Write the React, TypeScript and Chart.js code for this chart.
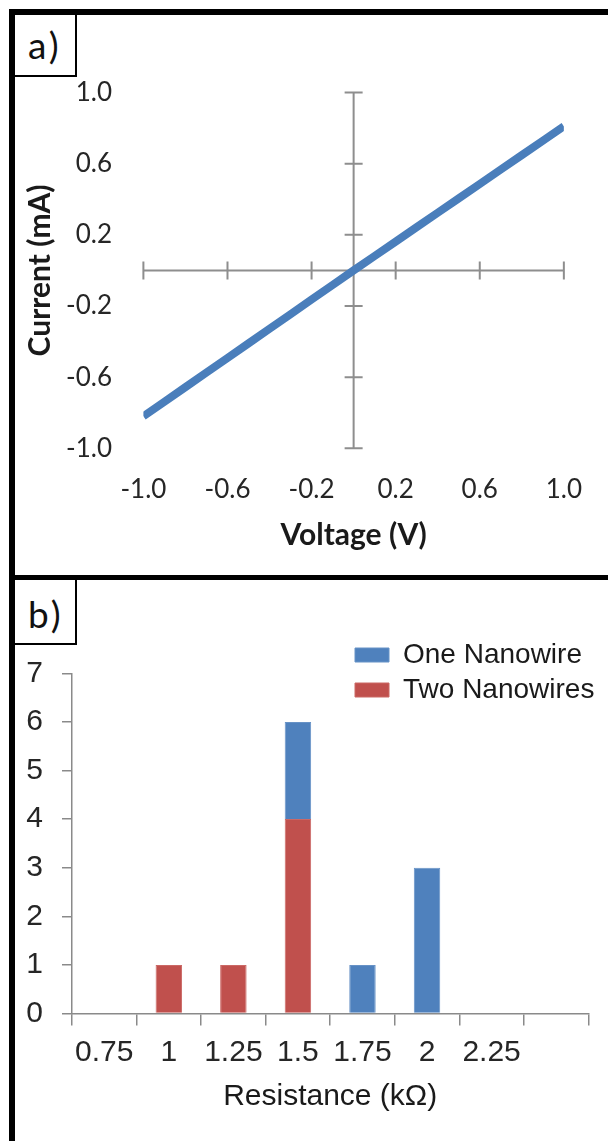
import React, { useEffect, useRef } from 'react';
import { Chart, registerables } from 'chart.js';

Chart.register(...registerables);

// ---- Panel a: I-V curve ----
const voltage = [-1.0, -0.9, -0.8, -0.7, -0.6, -0.5, -0.4, -0.3, -0.2, -0.1, 0.0, 0.1, 0.2, 0.3, 0.4, 0.5, 0.6, 0.7, 0.8, 0.9, 1.0];
const current = [-0.82, -0.738, -0.656, -0.574, -0.492, -0.41, -0.328, -0.246, -0.164, -0.082, 0.0, 0.081, 0.162, 0.243, 0.324, 0.405, 0.486, 0.567, 0.648, 0.729, 0.81];
const ivTicks = [-1.0, -0.6, -0.2, 0.2, 0.6, 1.0];

// ---- Panel b: resistance histogram ----
const resistanceBins = ['0.75', '1', '1.25', '1.5', '1.75', '2', '2.25', ''];
const oneNanowire = [0, 0, 0, 2, 1, 3, 0, 0];
const twoNanowires = [0, 1, 1, 4, 0, 0, 0, 0];
const countTicks = [0, 1, 2, 3, 4, 5, 6, 7];

const AXIS_A = '#8e8e8e';
const AXIS_B = '#8a8a8a';
const TEXT = '#262626';

const crossAxes = {
  id: 'crossAxes',
  beforeDatasetsDraw(chart: any) {
    const { ctx, scales } = chart;
    const x = scales.x;
    const y = scales.y;
    const x0 = x.getPixelForValue(0);
    const y0 = y.getPixelForValue(0);
    const first = ivTicks[0];
    const last = ivTicks[ivTicks.length - 1];
    ctx.save();
    ctx.strokeStyle = AXIS_A;
    ctx.lineWidth = 2;
    ctx.beginPath();
    ctx.moveTo(x.getPixelForValue(first), y0);
    ctx.lineTo(x.getPixelForValue(last), y0);
    ctx.moveTo(x0, y.getPixelForValue(last));
    ctx.lineTo(x0, y.getPixelForValue(first));
    ivTicks.forEach((t) => {
      const px = x.getPixelForValue(t);
      ctx.moveTo(px, y0 - 9);
      ctx.lineTo(px, y0 + 9);
      const py = y.getPixelForValue(t);
      ctx.moveTo(x0 - 9, py);
      ctx.lineTo(x0 + 9, py);
    });
    ctx.stroke();
    ctx.restore();
  },
};

const legendPlace = {
  id: 'legendPlace',
  afterLayout(chart: any) {
    const lg = chart.legend;
    if (!lg) return;
    lg.left = 333;
    lg.top = 54;
    lg.right = 593;
    lg.bottom = 220;
  },
};

function IVChart() {
  const ref = useRef<HTMLCanvasElement>(null);
  useEffect(() => {
    const chart = new Chart(ref.current as HTMLCanvasElement, {
      type: 'scatter',
      data: {
        datasets: [
          {
            label: 'I-V',
            data: voltage.map((v, i) => ({ x: v, y: current[i] })),
            showLine: true,
            borderColor: '#4a7ebb',
            backgroundColor: '#4a7ebb',
            borderWidth: 8,
            pointRadius: 0,
            tension: 0,
          },
        ],
      },
      options: {
        animation: false,
        responsive: false,
        layout: { padding: { left: 0, top: 77.5, right: 39, bottom: 0 } },
        plugins: { legend: { display: false }, tooltip: { enabled: false } },
        scales: {
          x: {
            type: 'linear',
            min: -1,
            max: 1,
            afterBuildTicks: (s: any) => {
              s.ticks = ivTicks.map((v) => ({ value: v }));
            },
            afterFit: (s: any) => {
              s.height = 126.7;
            },
            grid: { display: false, drawTicks: false },
            border: { display: false },
            ticks: {
              callback: (v: any) => Number(v).toFixed(1),
              font: { family: 'Lato', size: 26 },
              color: TEXT,
              padding: 26,
              maxRotation: 0,
              autoSkip: false,
            },
            title: {
              display: true,
              text: 'Voltage (V)',
              font: { family: 'Lato', size: 30, weight: 'bold' },
              color: '#1a1a1a',
              padding: { top: 0, bottom: 22 },
            },
          },
          y: {
            type: 'linear',
            min: -1,
            max: 1,
            afterBuildTicks: (s: any) => {
              s.ticks = ivTicks.map((v) => ({ value: v }));
            },
            afterFit: (s: any) => {
              s.width = 128.4;
            },
            grid: { display: false, drawTicks: false },
            border: { display: false },
            ticks: {
              callback: (v: any) => Number(v).toFixed(1),
              font: { family: 'Lato', size: 26 },
              color: TEXT,
              padding: 31.4,
              autoSkip: false,
            },
            title: {
              display: true,
              text: 'Current (mA)',
              font: { family: 'Lato', size: 30, weight: 'bold' },
              color: '#1a1a1a',
              padding: { top: 7, bottom: 0 },
            },
          },
        },
      },
      plugins: [crossAxes],
    } as any);
    return () => chart.destroy();
  }, []);
  return (
    <canvas
      ref={ref}
      width={593}
      height={560}
      style={{ position: 'absolute', left: 15, top: 15, width: 593, height: 560, display: 'block' }}
    />
  );
}

function HistChart() {
  const ref = useRef<HTMLCanvasElement>(null);
  useEffect(() => {
    const chart = new Chart(ref.current as HTMLCanvasElement, {
      type: 'bar',
      data: {
        labels: resistanceBins,
        datasets: [
          {
            label: 'Two Nanowires',
            data: twoNanowires,
            backgroundColor: '#c0504d',
            borderColor: '#cb6865',
            borderWidth: 1,
            categoryPercentage: 1,
            barPercentage: 0.41,
          },
          {
            label: 'One Nanowire',
            data: oneNanowire,
            backgroundColor: '#4f81bd',
            borderColor: '#6792c6',
            borderWidth: 1,
            categoryPercentage: 1,
            barPercentage: 0.41,
          },
        ],
      },
      options: {
        animation: false,
        responsive: false,
        layout: { padding: { left: 0, top: 93.3, right: 18.6, bottom: 0 } },
        plugins: {
          tooltip: { enabled: false },
          legend: {
            display: true,
            position: 'right',
            align: 'start',
            maxWidth: 1,
            reverse: true,
            labels: {
              boxWidth: 34,
              boxHeight: 14,
              padding: 7,
              color: '#1a1a1a',
              font: { family: 'Liberation Sans', size: 28 },
            },
          },
        },
        scales: {
          x: {
            type: 'category',
            stacked: true,
            offset: true,
            afterFit: (s: any) => {
              s.height = 127.5;
            },
            grid: {
              display: true,
              offset: true,
              drawOnChartArea: false,
              drawTicks: true,
              tickLength: 12,
              color: AXIS_B,
              lineWidth: 1.5,
            },
            border: { display: true, color: AXIS_B, width: 1.5 },
            ticks: {
              font: { family: 'Liberation Sans', size: 30 },
              color: TEXT,
              padding: 9,
              maxRotation: 0,
              autoSkip: false,
            },
            title: {
              display: true,
              text: 'Resistance (kΩ)',
              font: { family: 'Liberation Sans', size: 30 },
              color: '#1a1a1a',
              padding: { top: 0, bottom: 26.4 },
            },
          },
          y: {
            type: 'linear',
            stacked: true,
            min: countTicks[0],
            max: countTicks[countTicks.length - 1],
            afterBuildTicks: (s: any) => {
              s.ticks = countTicks.map((v) => ({ value: v }));
            },
            afterFit: (s: any) => {
              s.width = 57;
            },
            grid: {
              display: true,
              drawOnChartArea: false,
              drawTicks: true,
              tickLength: 10,
              color: AXIS_B,
              lineWidth: 1.5,
            },
            border: { display: true, color: AXIS_B, width: 1.5 },
            ticks: {
              font: { family: 'Liberation Sans', size: 30 },
              color: TEXT,
              padding: 19,
              autoSkip: false,
            },
          },
        },
      },
      plugins: [legendPlace],
    } as any);
    return () => chart.destroy();
  }, []);
  return (
    <canvas
      ref={ref}
      width={593}
      height={561}
      style={{ position: 'absolute', left: 15, top: 580, width: 593, height: 561, display: 'block' }}
    />
  );
}

export default function App() {
  const panelLabel = (text: string, top: number, h: number, lh: number) => (
    <div
      style={{
        position: 'absolute',
        left: 15,
        top,
        width: 62,
        height: h,
        borderRight: '2px solid #000',
        borderBottom: '2px solid #000',
        background: '#fff',
        fontFamily: 'Lato',
        fontSize: 37,
        lineHeight: lh + 'px',
        paddingLeft: 13,
        boxSizing: 'border-box',
        letterSpacing: 3,
        color: '#111',
        overflow: 'visible',
        whiteSpace: 'nowrap',
      }}
    >
      {text}
    </div>
  );
  return (
    <div
      style={{
        position: 'absolute',
        left: 0,
        top: 0,
        width: 608,
        height: 1141,
        background: '#fff',
        overflow: 'hidden',
      }}
    >
      <IVChart />
      <HistChart />
      <div style={{ position: 'absolute', left: 9, top: 9, width: 6, height: 1132, background: '#000' }} />
      <div style={{ position: 'absolute', left: 9, top: 9, width: 599, height: 6, background: '#000' }} />
      <div style={{ position: 'absolute', left: 9, top: 575, width: 599, height: 5, background: '#000' }} />
      {panelLabel('a)', 15, 62, 60)}
      {panelLabel('b)', 580, 65, 68)}
    </div>
  );
}
